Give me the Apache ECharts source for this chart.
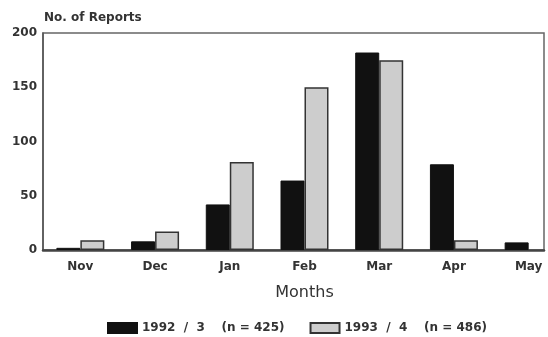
<!DOCTYPE html>
<html>
<head>
<meta charset="utf-8">
<script src="https://cdn.jsdelivr.net/npm/echarts@6/dist/echarts.min.js"></script>
<style>
  html, body { margin: 0; padding: 0; background: #fff; }
  #chart { width: 548px; height: 337px; }
</style>
</head>
<body>
<div id="chart"></div>
<script>
// Monthly report counts for two seasons
const months = ['Nov', 'Dec', 'Jan', 'Feb', 'Mar', 'Apr', 'May'];
const season1992 = [2, 8, 42, 64, 182, 79, 7];
const season1993 = [9, 17, 81, 150, 175, 9, null];
const yTicks = [0, 50, 100, 150, 200];
const seriesNames = ['1992  /  3    (n = 425)', '1993  /  4    (n = 486)'];

const font = 'DejaVu Sans, Liberation Sans, sans-serif';
const chart = echarts.init(document.getElementById('chart'));

chart.setOption({
  animation: false,
  backgroundColor: '#fff',
  textStyle: { fontFamily: font },
  grid: [
    // data grid: bands run a little past the frame on the right
    { left: 43, top: 33, right: -18, bottom: 87, show: false, outerBoundsMode: 'none', containLabel: false },
    // frame around the plotting area
    { left: 43, top: 33, right: 4, bottom: 87, show: true, borderColor: '#666', borderWidth: 1.5,
      backgroundColor: 'transparent', outerBoundsMode: 'none', containLabel: false }
  ],
  xAxis: [
    {
      type: 'category', gridIndex: 0, data: months,
      axisLine: { show: false }, axisTick: { show: false },
      axisLabel: { color: '#333', fontSize: 12, fontWeight: 'bold', margin: 11, fontFamily: font },
      name: 'Months', nameLocation: 'middle', nameGap: 35,
      nameTextStyle: { color: '#333', fontSize: 16, fontFamily: font }
    },
    {
      type: 'value', gridIndex: 1, min: 0, max: 1, show: true,
      axisLine: { show: true, lineStyle: { color: '#444', width: 2.5 } },
      axisTick: { show: false }, axisLabel: { show: false }, splitLine: { show: false }
    }
  ],
  yAxis: [
    {
      type: 'value', gridIndex: 0, min: 0, max: 200, interval: 50,
      axisLine: { show: true, lineStyle: { color: '#555', width: 1.5 } },
      axisTick: { show: false }, splitLine: { show: false },
      axisLabel: {
        color: '#333', fontSize: 12, fontWeight: 'bold', margin: 6, fontFamily: font,
        formatter: v => yTicks.includes(v) ? String(v) : ''
      },
      name: 'No. of Reports', nameLocation: 'end', nameGap: 9,
      nameTextStyle: { color: '#333', fontSize: 12, fontWeight: 'bold', align: 'left', fontFamily: font, padding: [0, 0, 0, 1] }
    },
    {
      type: 'value', gridIndex: 1, min: 0, max: 1, show: false
    }
  ],
  legend: {
    bottom: 3, left: 107, padding: 0, itemGap: 25, itemWidth: 29, itemHeight: 10,
    icon: 'rect',
    textStyle: { color: '#333', fontSize: 12, fontWeight: 'bold', fontFamily: font },
    data: seriesNames
  },
  series: [
    {
      name: seriesNames[0], type: 'bar', xAxisIndex: 0, yAxisIndex: 0,
      data: season1992, barWidth: 24, barGap: '0%',
      itemStyle: { color: '#111', borderColor: '#111', borderWidth: 1 }
    },
    {
      name: seriesNames[1], type: 'bar', xAxisIndex: 0, yAxisIndex: 0,
      data: season1993, barWidth: 24, barGap: '0%',
      itemStyle: { color: '#cdcdcd', borderColor: '#333', borderWidth: 1.5 }
    }
  ]
});
</script>
</body>
</html>
